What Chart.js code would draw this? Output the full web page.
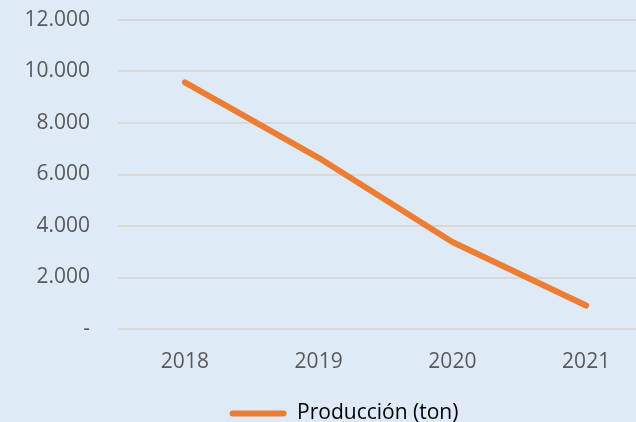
<!DOCTYPE html>
<html>
<head>
<meta charset="utf-8">
<script src="https://cdn.jsdelivr.net/npm/chart.js@4"></script>
<style>
  html, body { margin: 0; padding: 0; overflow: hidden; background: #DEEBF7; }
  canvas { display: block; }
</style>
</head>
<body>
<canvas id="prodChart" width="688" height="434"></canvas>
<script>
const YEARS = ['2018', '2019', '2020', '2021'];
const PRODUCCION = [9580, 6650, 3380, 910];
const SERIES_LABEL = 'Producción (ton)';
const Y_MAX = 12000;
const Y_STEP = 2000;

const ORANGE = '#ED7D31';
const TEXT_GREY = '#595959';

// Excel-style thousands: 12.000, and "-" for zero
function formatMiles(v) {
  if (v === 0) return '-';
  return v.toString().replace(/\B(?=(\d{3})+(?!\d))/g, '.');
}

const ctx = document.getElementById('prodChart').getContext('2d');
const prodChart = new Chart(ctx, {
  type: 'line',
  data: {
    labels: YEARS,
    datasets: [{
      label: SERIES_LABEL,
      data: PRODUCCION,
      borderColor: ORANGE,
      backgroundColor: ORANGE,
      borderWidth: 6,
      borderCapStyle: 'round',
      borderJoinStyle: 'round',
      pointRadius: 0,
      tension: 0,
      fill: false
    }]
  },
  options: {
    responsive: false,
    animation: false,
    layout: { padding: { top: 20, left: 0, right: 0, bottom: 0 } },
    plugins: {
      tooltip: { enabled: false },
      legend: {
        position: 'bottom',
        labels: {
          font: { family: 'Open Sans', size: 21 },
          color: TEXT_GREY,
          boxWidth: 57,
          boxHeight: 6,
          padding: 10,
          useBorderRadius: true,
          borderRadius: 3,
          generateLabels: (chart) => [{
            text: SERIES_LABEL,
            fillStyle: ORANGE,
            strokeStyle: ORANGE,
            lineWidth: 0,
            borderRadius: 3,
            hidden: false,
            datasetIndex: 0
          }]
        }
      }
    },
    scales: {
      x: {
        offset: true,
        grid: { display: false, drawTicks: false },
        border: { display: false },
        ticks: {
          font: { family: 'Open Sans', size: 21 },
          color: TEXT_GREY,
          padding: 20,
          maxRotation: 0
        },
        afterFit: (scale) => { scale.height = 64; }
      },
      y: {
        min: 0,
        max: Y_MAX,
        grid: {
          color: '#D9D9D9',
          lineWidth: 2,
          drawTicks: true,
          tickLength: 28,
          tickColor: 'transparent'
        },
        border: { display: false },
        ticks: {
          stepSize: Y_STEP,
          font: { family: 'Open Sans', size: 21 },
          color: TEXT_GREY,
          padding: 0,
          callback: (v) => formatMiles(v)
        },
        afterFit: (scale) => { scale.width = 118; }
      },
      // empty right axis only reserves space so the plot runs off the edge like the original
      yRight: {
        position: 'right',
        display: true,
        grid: { display: false, drawTicks: false },
        border: { display: false },
        ticks: { display: false },
        afterFit: (scale) => { scale.width = 35; }
      }
    }
  }
});
</script>
</body>
</html>
